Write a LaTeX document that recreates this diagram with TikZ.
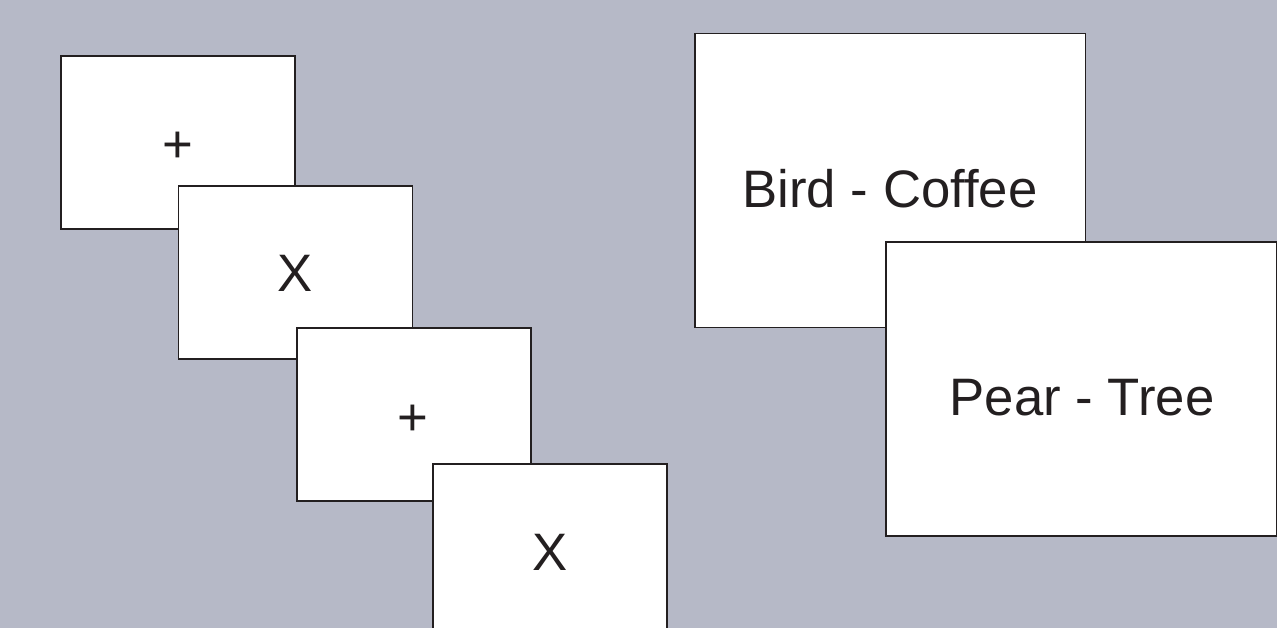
\documentclass[tikz,border=0pt]{standalone}
\usepackage{fontspec}
\setmainfont{Liberation Sans}
\definecolor{backdrop}{RGB}{182,185,199}
\definecolor{ink}{RGB}{35,31,32}

\begin{document}
\begin{tikzpicture}[x=0.02cm,y=-0.02cm,
  screen/.style={rectangle,draw=ink,fill=white,line width=1.1pt,
    minimum width=4.68cm,minimum height=3.46cm},
  pairscreen/.style={screen,minimum width=7.82cm,minimum height=5.88cm},
  word/.style={font=\fontsize{30}{36}\selectfont,text=ink,
    text height=21.5pt,text depth=0pt,inner sep=0pt}]

  \fill[backdrop] (0,0) rectangle (1277,628);
  \useasboundingbox (0,0) rectangle (1277,628);
  \clip (0,0) rectangle (1277,628);

  % fixation / mask sequence
  \node[screen] (fix1) at (178,142.5) {};
  \node[word] (fix1txt) at (178,144) {+};
  \node[screen] (mask1) at (295.5,272.5) {};
  \node[word] (mask1txt) at (295,273) {X};
  \node[screen] (fix2) at (414,414.5) {};
  \node[word] (fix2txt) at (413,417) {+};
  \node[screen] (mask2) at (550,550.5) {};
  \node[word] (mask2txt) at (550,552) {X};

  % word pairs
  \node[pairscreen] (bird) at (890,180.5) {};
  \node[word] (birdtxt) at (890,188.5) {Bird - Coffee};
  \node[pairscreen] (pear) at (1081,389) {};
  \node[word] (peartxt) at (1082,396.5) {Pear - Tree};
\end{tikzpicture}
\end{document}
